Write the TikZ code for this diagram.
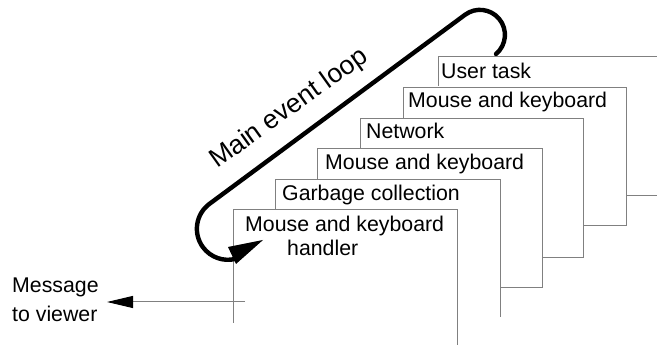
\documentclass[tikz,border=0pt]{standalone}
\usepackage{fontspec}
\setmainfont{Liberation Sans}
\usetikzlibrary{arrows.meta}
\begin{document}
\begin{tikzpicture}[x=1pt,y=1pt,
  box/.style={draw=black!50, line width=0.9pt},
  lbl/.style={anchor=base west, inner sep=0pt, font=\fontsize{21.3}{25}\selectfont},
  loopline/.style={line width=4.4pt, line cap=round}]
\useasboundingbox (0,0) rectangle (657,345);

% stacked handler frames
\draw[box] (438,259) -- (438,289) -- (657,289);
\draw[box] (403,227) -- (403,258) -- (626,258) -- (626,120) -- (583,120);
\draw[box] (360,197) -- (360,227) -- (583,227) -- (583,88) -- (542,88);
\draw[box] (317,166) -- (317,197) -- (542,197) -- (542,58) -- (500,58);
\draw[box] (275,136) -- (275,166) -- (500,166) -- (500,28);
\draw[box] (233,22) -- (233,136) -- (457,136) -- (457,0);
\draw[box] (657,150) -- (626,150);

% labels
\node[lbl] (user) at (441,266) {User task};
\node[lbl] (mk1) at (408,237) {Mouse and keyboard};
\node[lbl] (net) at (366,206) {Network};
\node[lbl] (mk2) at (325,175) {Mouse and keyboard};
\node[lbl] (gc) at (282,144) {Garbage collection};
\node[lbl] (mk3) at (245,113) {Mouse and keyboard};
\node[lbl] (hdl) at (287,89) {handler};
\node[lbl] (msg1) at (12,52) {Message};
\node[lbl] (msg2) at (12,23) {to viewer};

% main event loop
\draw[loopline] (496,291) arc[start angle=-50, end angle=126.5, radius=25]
  -- ++(216.5:318) arc[start angle=126.5, end angle=285, radius=31];
\fill (263,105) -- (228,98) -- (236,81) -- cycle;
\node[lbl, font=\fontsize{26.5}{30}\selectfont, rotate=35.5] (title) at (217,176) {Main event loop};

% message to viewer
\coordinate (mstart) at (245,43);
\coordinate (mend) at (107,43);
\draw[draw=black!50, line width=1pt, -{Triangle[length=26pt,width=12pt,color=black]}] (mstart) -- (mend);
\end{tikzpicture}
\end{document}
